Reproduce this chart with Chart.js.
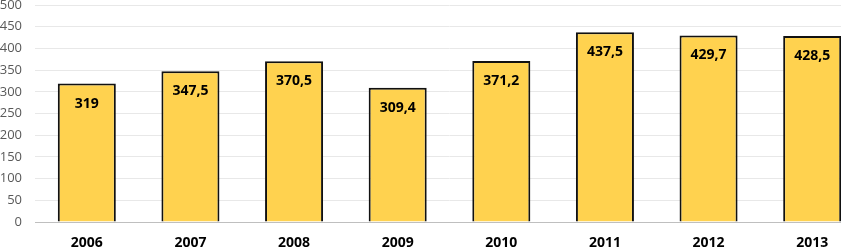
<!DOCTYPE html>
<html>
<head>
<meta charset="utf-8">
<script src="https://cdn.jsdelivr.net/npm/chart.js@4"></script>
<style>
  html, body { margin: 0; padding: 0; background: #fff; overflow: hidden; }
  #wrap { width: 864px; height: 247px; position: relative; }
</style>
</head>
<body>
<div id="wrap"><canvas id="myCanvas"></canvas></div>
<script>
var years = ['2006', '2007', '2008', '2009', '2010', '2011', '2012', '2013'];
var values = [319, 347.5, 370.5, 309.4, 371.2, 437.5, 429.7, 428.5];
var valueLabels = ['319', '347,5', '370,5', '309,4', '371,2', '437,5', '429,7', '428,5'];
var yTicks = [0, 50, 100, 150, 200, 250, 300, 350, 400, 450, 500];

// draws the value inside the top of each bar
var barLabels = {
    id: 'barLabels',
    afterDatasetsDraw: function(chart) {
        var ctx = chart.ctx;
        var meta = chart.getDatasetMeta(0);
        ctx.save();
        ctx.font = 'bold 14px "Open Sans", sans-serif';
        ctx.fillStyle = '#000';
        ctx.textAlign = 'center';
        ctx.textBaseline = 'middle';
        meta.data.forEach(function(bar, i) {
            ctx.fillText(valueLabels[i], bar.x, bar.y + 20);
        });
        ctx.restore();
    }
};

var ctx = document.getElementById('myCanvas').getContext('2d');
var myChart = new Chart(ctx, {
    type: 'bar',
    data: {
        labels: years,
        datasets: [{
            data: values,
            backgroundColor: '#FFD24F',
            borderColor: '#111',
            borderWidth: 2,
            borderSkipped: 'bottom',
            categoryPercentage: 1,
            barPercentage: 0.56
        }]
    },
    options: {
        responsive: true,
        maintainAspectRatio: false,
        animation: false,
        layout: { padding: { top: 5, right: 0, bottom: 0, left: 0 } },
        plugins: {
            legend: { display: false },
            tooltip: { enabled: false }
        },
        scales: {
            x: {
                grid: { display: false, drawTicks: false },
                border: { display: true, color: '#BFBFBF', width: 1 },
                ticks: {
                    color: '#000',
                    padding: 13,
                    font: { family: '"Open Sans", sans-serif', size: 14, weight: 'bold' }
                },
                afterFit: function(axis) {
                    axis.height = 25;
                    axis.paddingLeft = 0;
                    axis.paddingRight = 0;
                }
            },
            y: {
                min: 0,
                max: 500,
                afterBuildTicks: function(axis) {
                    axis.ticks = yTicks.map(function(v) { return { value: v }; });
                },
                grid: { color: '#E8E8E8', drawTicks: false },
                border: { display: false },
                ticks: {
                    color: '#595959',
                    padding: 13,
                    font: { family: '"Open Sans", sans-serif', size: 13 }
                },
                afterFit: function(axis) {
                    axis.width = 35;
                    axis.paddingTop = 0;
                    axis.paddingBottom = 0;
                }
            }
        }
    },
    plugins: [barLabels]
});
</script>
</body>
</html>
